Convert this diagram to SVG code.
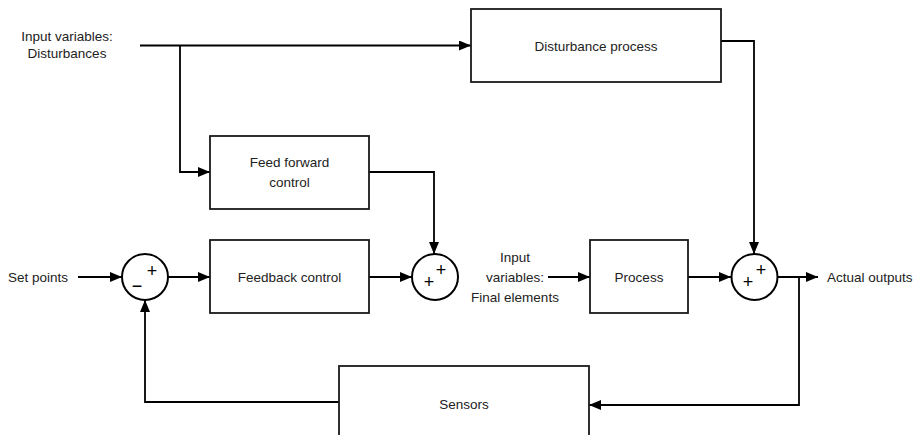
<svg xmlns="http://www.w3.org/2000/svg" width="916" height="435" viewBox="0 0 916 435">
  <defs>
    <marker id="arrow" markerWidth="12" markerHeight="10" refX="12" refY="5" orient="auto" markerUnits="userSpaceOnUse">
      <path d="M0,0 L12,5 L0,10 Z" fill="#000"/>
    </marker>
    <style>
      .box { fill: #fff; stroke: #1a1a1a; stroke-width: 1.8; }
      .sum { fill: #fff; stroke: #000; stroke-width: 2; }
      .wire { fill: none; stroke: #000; stroke-width: 1.8; }
      .lbl { font-family: "Liberation Sans", Arial, sans-serif; font-size: 13.5px; fill: #222; text-anchor: middle; }
      .sign { font-family: "Liberation Sans", Arial, sans-serif; font-size: 18px; fill: #000; text-anchor: middle; }
    </style>
  </defs>
  <rect width="916" height="435" fill="#fff"/>

  <!-- connectors -->
  <g id="connectors">
    <path class="wire" d="M140,45.5 H471" marker-end="url(#arrow)"/>
    <path class="wire" d="M180,45.5 V172 H210" marker-end="url(#arrow)"/>
    <path class="wire" d="M721,41 H754 V254" marker-end="url(#arrow)"/>
    <path class="wire" d="M369,172 H434 V254" marker-end="url(#arrow)"/>
    <path class="wire" d="M78,277 H122" marker-end="url(#arrow)"/>
    <path class="wire" d="M168,277 H210" marker-end="url(#arrow)"/>
    <path class="wire" d="M369,277 H412" marker-end="url(#arrow)"/>
    <path class="wire" d="M548,277 H590" marker-end="url(#arrow)"/>
    <path class="wire" d="M688,277 H731" marker-end="url(#arrow)"/>
    <path class="wire" d="M778,277 H818" marker-end="url(#arrow)"/>
    <path class="wire" d="M799,277 V405 H589" marker-end="url(#arrow)"/>
    <path class="wire" d="M339,402 H145 V300" marker-end="url(#arrow)"/>
  </g>

  <!-- free-standing labels -->
  <g id="labels">
    <text class="lbl" x="67" y="41">Input variables:</text>
    <text class="lbl" x="67" y="58">Disturbances</text>
    <text class="lbl" x="38" y="282">Set points</text>
    <text class="lbl" x="515" y="262">Input</text>
    <text class="lbl" x="515" y="282">variables:</text>
    <text class="lbl" x="515" y="302">Final elements</text>
    <text class="lbl" x="827" y="282" style="text-anchor:start">Actual outputs</text>
  </g>

  <g id="disturbance-process">
    <rect class="box" x="471" y="9" width="250" height="73"/>
    <text class="lbl" x="596" y="51">Disturbance process</text>
  </g>

  <g id="feed-forward-control">
    <rect class="box" x="210" y="136" width="159" height="73"/>
    <text class="lbl" x="289.5" y="167">Feed forward</text>
    <text class="lbl" x="289.5" y="187">control</text>
  </g>

  <g id="feedback-control">
    <rect class="box" x="210" y="240" width="159" height="73"/>
    <text class="lbl" x="289.5" y="282">Feedback control</text>
  </g>

  <g id="process">
    <rect class="box" x="590" y="240" width="98" height="73"/>
    <text class="lbl" x="639" y="282">Process</text>
  </g>

  <g id="sensors">
    <rect class="box" x="339" y="366" width="250" height="80"/>
    <text class="lbl" x="464" y="409">Sensors</text>
  </g>

  <g id="sum-error">
    <circle class="sum" cx="145" cy="277" r="23"/>
    <text class="sign" x="152" y="277">+</text>
    <text class="sign" x="137" y="292">−</text>
  </g>

  <g id="sum-control">
    <circle class="sum" cx="435" cy="277" r="23"/>
    <text class="sign" x="441" y="276">+</text>
    <text class="sign" x="429" y="288">+</text>
  </g>

  <g id="sum-output">
    <circle class="sum" cx="754.5" cy="277" r="23"/>
    <text class="sign" x="761" y="276">+</text>
    <text class="sign" x="748" y="288">+</text>
  </g>
</svg>
